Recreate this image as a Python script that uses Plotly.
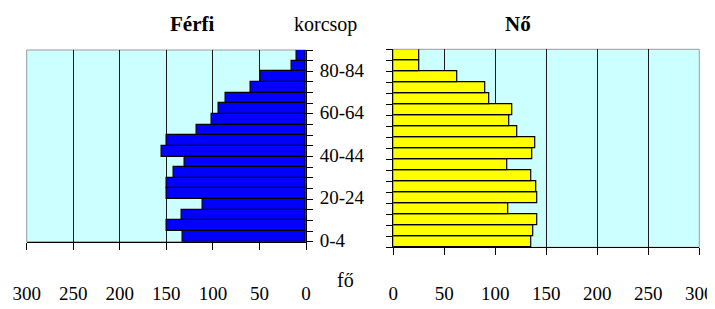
import plotly.graph_objects as go

age_groups = ["0-4", "5-9", "10-14", "15-19", "20-24", "25-29", "30-34", "35-39",
              "40-44", "45-49", "50-54", "55-59", "60-64", "65-69", "70-74", "75-79",
              "80-84", "85-"]
male = [132, 150, 133, 111, 150, 150, 142, 130, 155, 150, 117, 101, 94, 86, 59, 49, 15, 10]
female = [135, 137, 141, 113, 141, 140, 135, 112, 136, 139, 122, 114, 117, 94, 90, 63, 25, 25]
x_ticks = [0, 50, 100, 150, 200, 250, 300]
age_ticktext = [g if i % 4 == 0 else "" for i, g in enumerate(age_groups)]

FONT = "Liberation Serif, Times New Roman, serif"
BG = "#CCFFFF"
GRID = "#1a1a1a"

# page body has an 8px default margin; figure sized to fill the rest of the window
OFF = 8
W, H = 715 - OFF, 309 - OFF


def fx(px):
    return (px - OFF) / W


def fy(py):
    return 1 - (py - OFF) / H


fig = go.Figure()
fig.add_trace(go.Bar(y=age_groups, x=male, orientation="h", xaxis="x", yaxis="y",
                     marker=dict(color="#0000FF", line=dict(color="black", width=1.2)),
                     showlegend=False, hoverinfo="x+y"))
fig.add_trace(go.Bar(y=age_groups, x=female, orientation="h", xaxis="x2", yaxis="y2",
                     marker=dict(color="#FFFF00", line=dict(color="black", width=1.2)),
                     showlegend=False, hoverinfo="x+y"))

xcommon = dict(tickvals=x_ticks, showgrid=True, gridcolor=GRID, gridwidth=1,
               showline=True, linecolor="black", linewidth=1, ticks="outside",
               ticklen=7, tickcolor="black", zeroline=False, automargin=False,
               tickfont=dict(family=FONT, size=19, color="black"),
               fixedrange=True)
ycommon = dict(type="category", categoryorder="array", categoryarray=age_groups,
               range=[-0.5, len(age_groups) - 0.5], tickmode="array",
               tickvals=age_groups, ticks="outside", ticklen=6, tickcolor="black",
               tickson="boundaries", showline=True, linecolor="black", linewidth=1,
               showgrid=False, zeroline=False, fixedrange=True, automargin=False,
               tickfont=dict(family=FONT, size=19, color="black"))

ann_font = dict(family=FONT, size=20, color="black")
fig.update_layout(
    width=W, height=H, autosize=False,
    margin=dict(l=0, r=0, t=0, b=0, pad=0),
    paper_bgcolor="white", plot_bgcolor=BG,
    bargap=0,
    xaxis=dict(domain=[fx(26.7), fx(306)], range=[300, 0], anchor="y",
               ticklabelstandoff=27, **xcommon),
    yaxis=dict(domain=[fy(241.7), fy(50)], anchor="x", side="right",
               ticktext=age_ticktext, ticklabelstandoff=9, ticklabelshift=4, **ycommon),
    xaxis2=dict(domain=[fx(393.3), fx(699.3)], range=[0, 300], anchor="y2",
                ticklabelstandoff=22, **xcommon),
    yaxis2=dict(domain=[fy(247.3), fy(49.3)], anchor="x2", side="left",
                showticklabels=False, **ycommon),
    shapes=[
        dict(type="rect", xref="x domain", yref="y domain", x0=0, x1=1, y0=0, y1=1,
             line=dict(color="#9a9a9a", width=1), layer="below"),
        dict(type="rect", xref="x2 domain", yref="y2 domain", x0=0, x1=1, y0=0, y1=1,
             line=dict(color="#9a9a9a", width=1), layer="below"),
    ],
    annotations=[
        dict(text="<b>Férfi</b>", x=fx(192), y=fy(24), xref="paper", yref="paper",
             xanchor="center", yanchor="middle", showarrow=False,
             font=dict(family=FONT, size=21, color="black")),
        dict(text="korcsop", x=fx(325), y=fy(24), xref="paper", yref="paper",
             xanchor="center", yanchor="middle", showarrow=False, font=ann_font),
        dict(text="<b>Nő</b>", x=fx(518), y=fy(24), xref="paper", yref="paper",
             xanchor="center", yanchor="middle", showarrow=False,
             font=dict(family=FONT, size=21, color="black")),
        dict(text="fő", x=fx(345), y=fy(280), xref="paper", yref="paper",
             xanchor="center", yanchor="middle", showarrow=False, font=ann_font),
    ],
)

fig.write_html("out.html")
